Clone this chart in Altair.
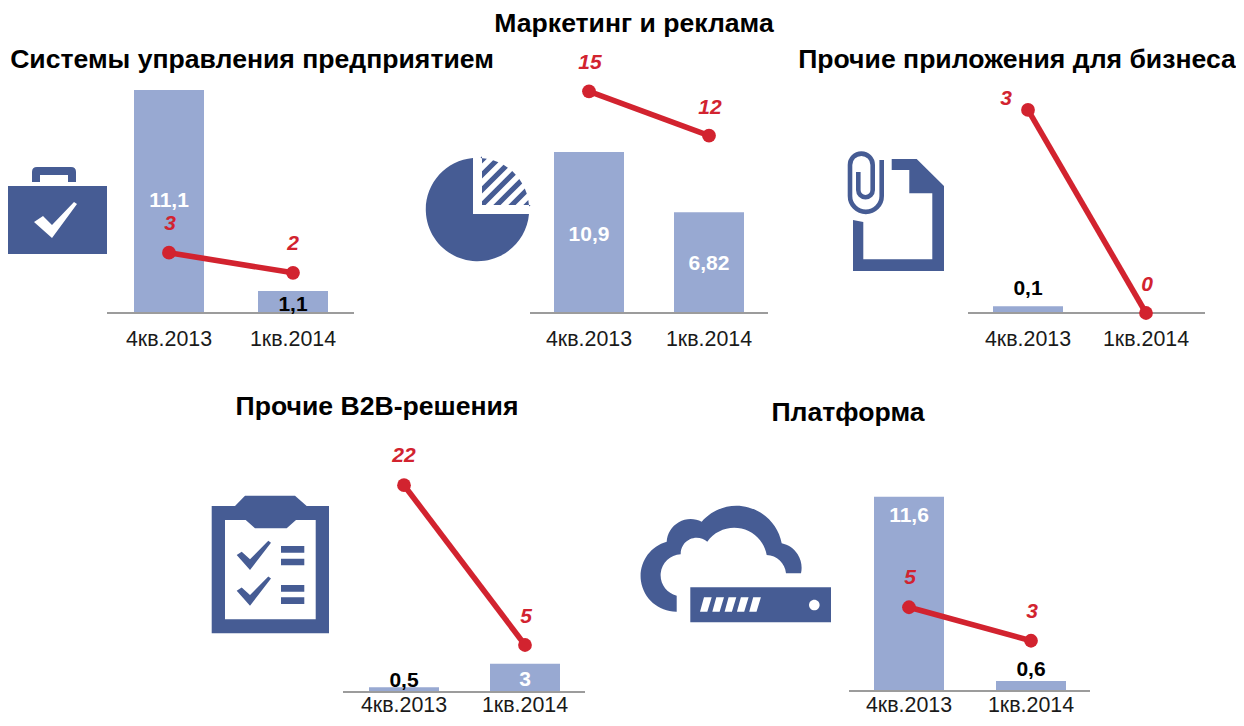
import math
import altair as alt
import pandas as pd

# ---- values ----
QUARTERS = ["4кв.2013", "1кв.2014"]
TITLES = ["Системы управления предприятием", "Маркетинг и реклама",
          "Прочие приложения для бизнеса", "Прочие B2B-решения", "Платформа"]
BAR_VALUES = [[11.1, 1.1], [10.9, 6.82], [0.1, 0.0], [0.5, 3.0], [11.6, 0.6]]
BAR_LABELS = [["11,1", "1,1"], ["10,9", "6,82"], ["0,1", ""], ["0,5", "3"], ["11,6", "0,6"]]
LINE_VALUES = [[3, 2], [15, 12], [3, 0], [22, 5], [5, 3]]

# ---- layout, in page pixels ----
OFF = 8
BLUE, DARK, RED, GREY = "#98A9D2", "#465C94", "#D2232F", "#9C9C9C"
FONT = "Liberation Sans"
LAYOUT = [
    dict(c=(169, 293), base=313, k=20.09, axis=(107, 354), tick=340, title=(252, 60),
         bar_dy=[(-112, "white"), (-8.5, "black")], line_off=[(1, -28.5), (0, -28.5)]),
    dict(c=(589, 709), base=313, k=14.78, axis=(530, 768), tick=340, title=(634, 24),
         bar_dy=[(-78.5, "white"), (-49.5, "white")], line_off=[(1, -28), (1, -28)]),
    dict(c=(1028, 1146), base=313, k=67.7, axis=(968, 1205), tick=340, title=(1017, 60),
         bar_dy=[(-24, "black"), (0, "black")], line_off=[(-22, -10.5), (1, -28.5)]),
    dict(c=(404, 525), base=692, k=9.4, axis=(343, 585), tick=706, title=(377, 407),
         bar_dy=[(-11, "black"), (-12, "white")], line_off=[(0, -29), (1, -28)]),
    dict(c=(909, 1031), base=691, k=16.75, axis=(849, 1090), tick=706, title=(848, 413),
         bar_dy=[(-175, "white"), (-21.5, "black")], line_off=[(1, -29), (1, -29)]),
]


def poly(pts):
    return "M" + " L".join(f"{x:.1f},{y:.1f}" for x, y in pts) + " Z"


def hatch():
    cx, cy, r = 477.5, 209.5, 51.7
    out = []
    for i in range(7):
        s0 = 638.3 + 15 * i
        s1 = s0 + 7.3
        def ends(s):
            d = s - cy
            b = cx + d
            disc = 2 * r * r - (cx - d) ** 2
            if disc <= 0:
                return None
            lo = (b - math.sqrt(disc)) / 2
            hi = (b + math.sqrt(disc)) / 2
            return max(482, s - 205, lo), hi
        e0, e1 = ends(s0), ends(s1)
        if not e0 or not e1:
            continue
        pts = [(e0[0], s0 - e0[0]), (e0[1], s0 - e0[1]), (e1[1], s1 - e1[1]), (e1[0], s1 - e1[0])]
        if s0 < 687 < s1:
            pts.append((482, 205))
        out.append(poly(pts))
    return " ".join(out)


ICON_DARK = [
    # briefcase
    "M8,186 L107,186 L107,254 L8,254 Z",
    "M32,182 L32,172 Q32,167 37,167 L71,167 Q76,167 76,172 L76,182 L68,182 L68,175 L40,175 L40,182 Z",
    # pie
    "M473,158 A51.7,51.7 0 1 0 529,214 L473,214 Z",
    hatch(),
    # document
    poly([(891.7, 159), (916.7, 159), (944, 186), (944, 271), (853, 271), (853, 220), (863.3, 222),
          (863.3, 259.3), (932.3, 259.3), (932.3, 193.3), (909.3, 193.3), (909.3, 170), (891.7, 170)]),
    # clipboard
    poly([(211.7, 506), (235, 506), (245, 495.7), (295, 495.7), (306.7, 506), (329, 506), (329, 633.3), (211.7, 633.3)]),
    # cloud
    "M676.7,611.7 A35.65,35.65 0 0 1 666.7,541.7 A24,24 0 0 1 701.7,521.7 A46,46 0 0 1 781.7,543.3 "
    "A25,25 0 0 1 801,573.3 L786,573.3 A20,20 0 0 0 766.7,555 A33,33 0 0 0 707.3,541.7 "
    "A16,16 0 0 0 680.7,554.3 A21,21 0 0 0 676.7,595.7 Z",
    # server
    "M690.3,587.3 L831,587.3 L831,622.3 L690.3,622.3 Z",
]
ICON_WHITE = [
    poly([(34, 222), (43, 216), (52, 225), (74, 202), (77, 204), (52, 238)]),
    poly([(225, 520), (245.7, 520), (255, 528.3), (286.7, 528.3), (296, 520), (315.7, 520), (315.7, 619.3), (225, 619.3)]),
    " ".join(poly([(704 + 12.3 * i, 597.3), (711.7 + 12.3 * i, 597.3), (707.3 + 12.3 * i, 611.7), (700 + 12.3 * i, 611.7)]) for i in range(5)),
    "M809,605 A5.3,5.3 0 1 1 819.6,605 A5.3,5.3 0 1 1 809,605 Z",
]
ICON_DARK_TOP = [
    poly([(236.7, 555), (241.7, 551.7), (250, 559.3), (268.3, 540.7), (271, 542.7), (250, 570)]),
    poly([(236.7, 590.7), (241.7, 587.4), (250, 595), (268.3, 576.4), (271, 578.4), (250, 605.7)]),
    "M281,546 L304.3,546 L304.3,552.7 L281,552.7 Z M281,558.7 L304.3,558.7 L304.3,565.3 L281,565.3 Z",
    "M281,585 L304.3,585 L304.3,591.7 L281,591.7 Z M281,597.3 L304.3,597.3 L304.3,604 L281,604 Z",
]
CLIP = ("M881.7,160 L881.7,196 A15.85,15.85 0 0 1 850,196 L850,165 A11.35,11.35 0 0 1 872.7,165 "
        "L872.7,190 A7.2,7.2 0 0 1 858.3,190 L858.3,172")

one = alt.Data(values=[{"a": 0}])
layers = []


def icon(path, color):
    return alt.Chart(one).mark_point(shape=path, size=4, filled=True, fill=color, opacity=1,
                                     strokeWidth=0).encode(x=alt.value(-OFF), y=alt.value(-OFF))


for p in ICON_DARK:
    layers.append(icon(p, DARK))
for p in ICON_WHITE:
    layers.append(icon(p, "white"))
for p in ICON_DARK_TOP:
    layers.append(icon(p, DARK))
layers.append(alt.Chart(one).mark_point(shape=CLIP, size=4, filled=False, stroke=DARK, strokeWidth=4.6,
                                        opacity=1).encode(x=alt.value(-OFF), y=alt.value(-OFF)))

for i, lay in enumerate(LAYOUT):
    df = pd.DataFrame({"q": QUARTERS, "bar": BAR_VALUES[i], "line": LINE_VALUES[i], "lab": BAR_LABELS[i]})
    top = 30
    xs = alt.Scale(type="point", domain=QUARTERS, padding=0, range=[lay["c"][0] - OFF, lay["c"][1] - OFF])
    ys = alt.Scale(type="linear", domain=[0, top], nice=False, zero=True,
                   range=[lay["base"] - OFF, lay["base"] - OFF - lay["k"] * top])
    X = alt.X("q:N", scale=xs, axis=None)
    Yb = alt.Y("bar:Q", scale=ys, axis=None)
    Yl = alt.Y("line:Q", scale=ys, axis=None)
    ch = alt.Chart(df)
    layers.append(ch.transform_filter("datum.bar > 0").mark_bar(size=70, color=BLUE).encode(x=X, y=Yb))
    layers.append(alt.Chart(one).mark_rule(color=GREY, strokeWidth=2).encode(
        x=alt.value(lay["axis"][0] - OFF), x2=alt.value(lay["axis"][1] - OFF), y=alt.value(lay["base"] - OFF)))
    layers.append(ch.mark_line(color=RED, strokeWidth=5.6).encode(x=X, y=Yl))
    layers.append(ch.mark_circle(color=RED, size=190, opacity=1).encode(x=X, y=Yl))
    for j, q in enumerate(QUARTERS):
        row = ch.transform_filter(alt.datum.q == q)
        if BAR_LABELS[i][j]:
            dy, col = lay["bar_dy"][j]
            layers.append(row.mark_text(font=FONT, fontSize=21, fontWeight="bold", color=col, dy=dy,
                                        baseline="middle").encode(
                x=X, y=alt.Y("base:Q", scale=ys, axis=None), text="lab:N").transform_calculate(base="0"))
        dx, dy = lay["line_off"][j]
        layers.append(row.mark_text(font=FONT, fontSize=21, fontWeight="bold", fontStyle="italic", color=RED,
                                    dx=dx, dy=dy, baseline="middle").encode(x=X, y=Yl, text="line:N"))
    layers.append(ch.mark_text(font=FONT, fontSize=21.4, color="#1a1a1a", baseline="middle").encode(
        x=X, y=alt.value(lay["tick"] - OFF), text="q:N"))
    layers.append(alt.Chart(one).mark_text(font=FONT, fontSize=26.6, fontWeight="bold", color="black",
                                           baseline="middle", text=TITLES[i]).encode(
        x=alt.value(lay["title"][0] - OFF), y=alt.value(lay["title"][1] - OFF)))

chart = alt.layer(*layers).resolve_scale(x="independent", y="independent").properties(
    width=1228, height=710, padding=0, background="white", autosize=alt.AutoSizeParams(type="none")
).configure_view(stroke=None)

chart.save("out.html", embed_options={"renderer": "svg", "actions": False})
